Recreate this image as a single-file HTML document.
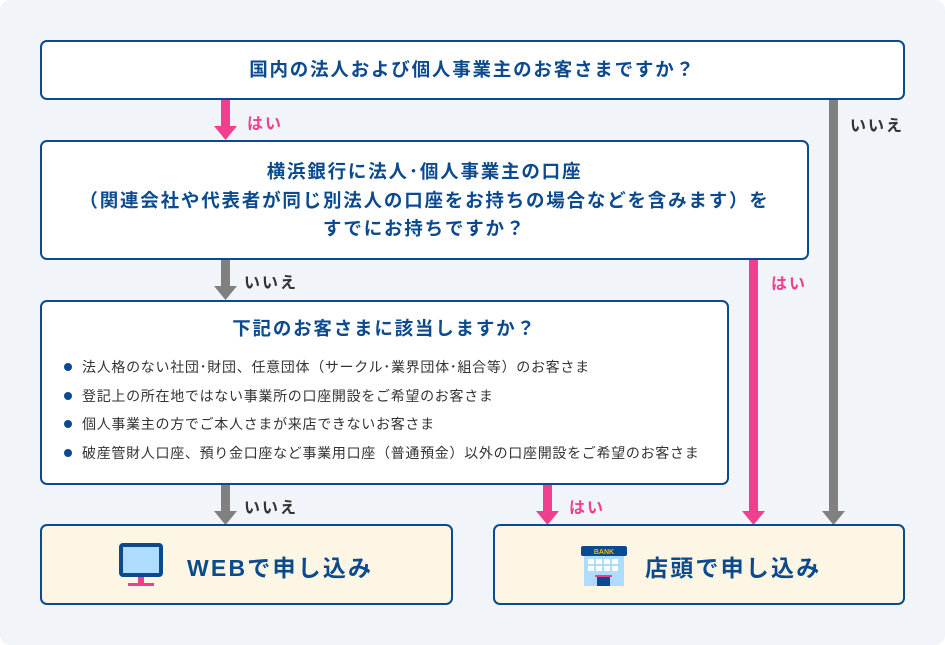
<!DOCTYPE html>
<html><head><meta charset="utf-8"><style>
*{margin:0;padding:0;box-sizing:border-box}
body{width:945px;height:645px;background:#fff;font-family:"Liberation Sans","Noto Sans CJK JP",sans-serif;position:relative;overflow:hidden}
.bg{position:absolute;left:0;top:0;width:945px;height:645px;background:#f1f4f9;border-radius:10px}
.box{position:absolute;border:2px solid #0b4a8f;border-radius:7px;background:#fff;color:#0b4a8f;font-weight:bold}
.t{position:absolute;font-weight:bold;font-size:16px;letter-spacing:2px;white-space:nowrap}
.c{text-align:center;font-size:18.5px;letter-spacing:1.8px;line-height:28.5px;white-space:nowrap}
ul{list-style:none;position:absolute;left:22px;top:57px;font-weight:normal;color:#333;font-size:14px;letter-spacing:0.7px;white-space:nowrap}
li{height:28.5px;line-height:16px;position:relative;padding-left:18px}
li:before{content:"";position:absolute;left:0;top:4px;width:8px;height:8px;border-radius:50%;background:#0b4a8f}
.fin{background:#fdf6e5;font-size:23px;letter-spacing:2.2px}
</style></head><body>
<div class="bg"></div>
<svg width="945" height="645" style="position:absolute;left:0;top:0">
<g fill="#ef3f8e">
<rect x="221" y="99" width="9" height="28"/><polygon points="214,126 237,126 225.5,140"/>
<rect x="749" y="259" width="9" height="253"/><polygon points="742,511 765,511 753.5,525"/>
<rect x="543" y="484" width="9" height="28"/><polygon points="536,511 559,511 547.5,525"/>
</g>
<g fill="#808080">
<rect x="829" y="99" width="9" height="413"/><polygon points="822,511 845,511 833.5,525"/>
<rect x="221" y="259" width="9" height="28"/><polygon points="214,286 237,286 225.5,300"/>
<rect x="221" y="484" width="9" height="28"/><polygon points="214,511 237,511 225.5,525"/>
</g>
</svg>
<div class="t" style="left:247px;top:110px;color:#ef3f8e">はい</div>
<div class="t" style="left:850px;top:112px;color:#333">いいえ</div>
<div class="t" style="left:244px;top:269px;color:#333">いいえ</div>
<div class="t" style="left:771px;top:270px;color:#ef3f8e">はい</div>
<div class="t" style="left:244px;top:494px;color:#333">いいえ</div>
<div class="t" style="left:569px;top:494px;color:#ef3f8e">はい</div>

<div class="box c" style="left:40px;top:40px;width:865px;height:60px;line-height:56px">国内の法人および個人事業主のお客さまですか？</div>
<div class="box c" style="left:40px;top:140px;width:769px;height:120px;padding-top:16px">横浜銀行に法人･個人事業主の口座<br>（関連会社や代表者が同じ別法人の口座をお持ちの場合などを含みます）を<br>すでにお持ちですか？</div>
<div class="box" style="left:40px;top:300px;width:689px;height:185px">
<div class="c" style="position:absolute;left:0;right:0;top:13px">下記のお客さまに該当しますか？</div>
<ul>
<li>法人格のない社団･財団、任意団体（サークル･業界団体･組合等）のお客さま</li>
<li>登記上の所在地ではない事業所の口座開設をご希望のお客さま</li>
<li>個人事業主の方でご本人さまが来店できないお客さま</li>
<li>破産管財人口座、預り金口座など事業用口座（普通預金）以外の口座開設をご希望のお客さま</li>
</ul></div>

<div class="box fin" style="left:40px;top:524px;width:413px;height:81px">
<svg width="50" height="50" style="position:absolute;left:76px;top:17px">
<rect x="3" y="2" width="40" height="30" rx="2" fill="#aedcff" stroke="#0b4a8f" stroke-width="4"/>
<rect x="20" y="34" width="6" height="7" fill="#ef3f8e"/><rect x="10" y="40" width="26" height="3" fill="#ef3f8e"/>
</svg>
<div style="position:absolute;left:145px;top:23px">WEBで申し込み</div></div>
<div class="box fin" style="left:493px;top:524px;width:412px;height:81px">
<svg width="50" height="50" style="position:absolute;left:85px;top:18px">
<rect x="1" y="2" width="46" height="10" rx="2" fill="#0b4a8f"/>
<text x="24" y="10" font-size="7" font-weight="bold" fill="#f5b800" text-anchor="middle" font-family="Liberation Sans" letter-spacing="0">BANK</text>
<rect x="4" y="12" width="40" height="30" fill="#aedcff"/>
<g fill="#fff"><rect x="8" y="15" width="6" height="5"/><rect x="16" y="15" width="6" height="5"/><rect x="24" y="15" width="6" height="5"/><rect x="32" y="15" width="6" height="5"/><rect x="8" y="22" width="6" height="5"/><rect x="16" y="22" width="6" height="5"/><rect x="24" y="22" width="6" height="5"/><rect x="32" y="22" width="6" height="5"/></g>
<rect x="15" y="31" width="17" height="2" fill="#ef3f8e"/><rect x="17" y="33" width="13" height="9" fill="#0b4a8f"/>
</svg>
<div style="position:absolute;left:150px;top:23px">店頭で申し込み</div></div>
</body></html>
